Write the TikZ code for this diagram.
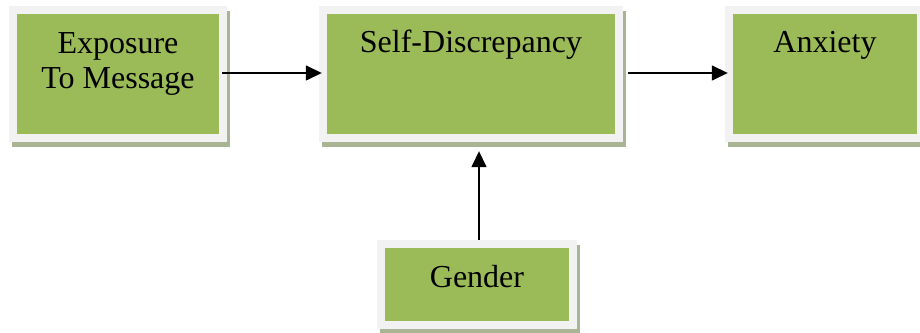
\documentclass[tikz,border=0pt]{standalone}
\usepackage{fontspec}
\setmainfont{Liberation Serif}
\usepackage{xcolor}
\usetikzlibrary{arrows.meta}
\usetikzlibrary{shadows}

\definecolor{boxgreen}{HTML}{9BBB59}
\definecolor{framegray}{HTML}{F2F2F2}
\definecolor{shadowgreen}{HTML}{A9B495}

\tikzset{
	stagebox/.style={fill=framegray, draw=none, inner sep=0pt,
		drop shadow={shadow xshift=3pt, shadow yshift=-5pt, fill=shadowgreen, opacity=1},
		path picture={\fill[boxgreen] ([shift={(8pt,8pt)}]path picture bounding box.south west) rectangle ([shift={(-8pt,-8pt)}]path picture bounding box.north east);}},
	stagetext/.style={font=\fontsize{32}{35}\selectfont, inner sep=0pt, align=center},
	link/.style={-{Triangle[length=16pt,width=15pt]}, line width=1.5pt}
}

\begin{document}
\begin{tikzpicture}[x=1pt,y=1pt]
		\useasboundingbox (0,0) rectangle (920,332);
		% boxes
		\node[stagebox, minimum width=218, minimum height=136] (expo) at (118,258) {};
		\node[stagebox, minimum width=304, minimum height=136] (discr) at (471,258) {};
		\node[stagebox, minimum width=200, minimum height=136] (anx) at (825,258) {};
		\node[stagebox, minimum width=200, minimum height=89] (gender) at (477,47.5) {};
		% texts
		\node[stagetext] (expotext) at (118,268) {Exposure\\To Message};
		\node[stagetext, anchor=base] (discrtext) at (471,279) {Self-Discrepancy};
		\node[stagetext, anchor=base] (anxtext) at (825,279) {Anxiety};
		\node[stagetext, anchor=base] (gendertext) at (477,45) {Gender};
		% arrows
		\draw[link, shorten <=-5pt, shorten >=-3pt] ([yshift=1pt]expo.east) -- ([yshift=1pt]discr.west);
		\draw[link, shorten <=5pt, shorten >=-3pt] ([yshift=1pt]discr.east) -- ([yshift=1pt]anx.west);
		\draw[link, shorten >=9pt] ([xshift=2pt]gender.north) -- ([xshift=2pt]gender.north |- discr.south);
	\end{tikzpicture}
\end{document}
